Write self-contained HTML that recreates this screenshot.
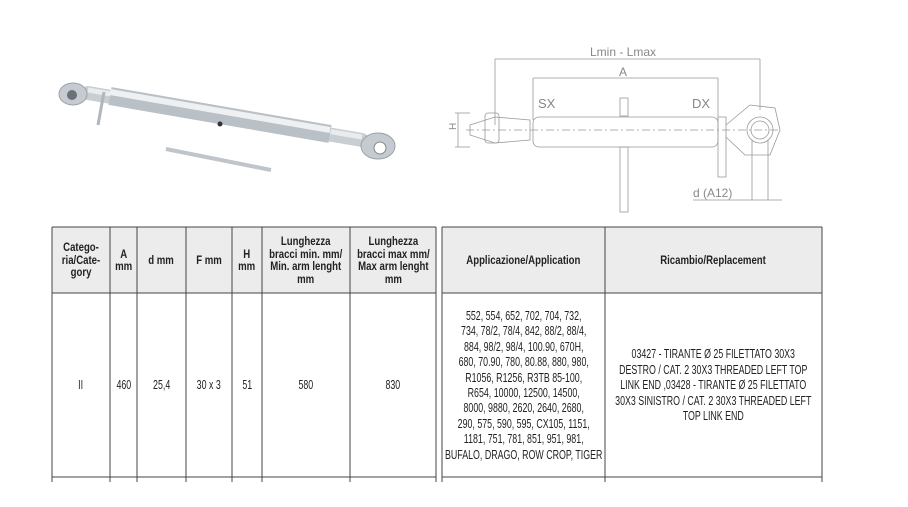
<!DOCTYPE html>
<html><head><meta charset="utf-8"><style>
body{margin:0;width:908px;height:507px;background:#fff;position:relative;overflow:hidden;font-family:"Liberation Sans",sans-serif;color:#222}
.c{position:absolute;display:flex;align-items:center;justify-content:center;text-align:center}
.c>span{display:block;white-space:nowrap;transform-origin:center}
.h{font-weight:bold;font-size:12px;line-height:12.5px}
.h>span{transform:scaleX(.8)}
.b{font-size:13px;line-height:15.4px}
.b>span{transform:scaleX(.68)}
</style></head><body>
<svg width="908" height="507" style="position:absolute;left:0;top:0">
<g>
<line x1="88" y1="93" x2="362" y2="140" stroke="#c9ced3" stroke-width="14" stroke-linecap="round"/>
<line x1="88" y1="90" x2="362" y2="137" stroke="#e9ecef" stroke-width="5"/>
<line x1="110" y1="96" x2="330" y2="134" stroke="#b9c0c6" stroke-width="18"/>
<line x1="110" y1="92" x2="330" y2="130" stroke="#eef0f2" stroke-width="6"/>
<ellipse cx="73" cy="94" rx="14" ry="11" fill="#c5cbd0" stroke="#9aa1a8"/>
<circle cx="72" cy="95" r="5" fill="#6a7078"/>
<ellipse cx="378" cy="146" rx="17" ry="13" fill="#c5cbd0" stroke="#9aa1a8"/>
<circle cx="380" cy="148" r="6" fill="#fff" stroke="#888"/>
<path d="M104 92 L98 125" stroke="#b0b6bc" stroke-width="3"/>
<circle cx="220" cy="124" r="2.5" fill="#333"/>
<line x1="166" y1="149" x2="271" y2="170" stroke="#bfc5ca" stroke-width="4"/>
</g>
<g stroke="#999" fill="none" stroke-width="0.8">
<line x1="495" y1="59" x2="760" y2="59"/>
<line x1="495" y1="59" x2="495" y2="125"/><line x1="760" y1="59" x2="760" y2="110"/>
<line x1="533" y1="78" x2="718" y2="78"/>
<line x1="533" y1="78" x2="533" y2="120"/><line x1="718" y1="78" x2="718" y2="120"/>
<rect x="533" y="117" width="185" height="30" rx="6"/>
<line x1="466" y1="130" x2="780" y2="130" stroke-dasharray="8,3,2,3"/>
<path d="M470 125 L495 117 L530 120 L530 140 L495 143 L470 135 Z"/>
<rect x="485" y="113" width="14" height="30" rx="3"/>
<rect x="620" y="98" width="8" height="18"/><rect x="620" y="147" width="8" height="65"/>
<rect x="718" y="117" width="8" height="60"/>
<path d="M726 125 L750 105 L775 108 L780 130 L770 155 L745 155 L726 137"/>
<circle cx="760" cy="130" r="13"/><circle cx="760" cy="130" r="9"/>
<line x1="455" y1="113" x2="470" y2="113"/><line x1="455" y1="147" x2="470" y2="147"/><line x1="458" y1="113" x2="458" y2="147"/>
<line x1="693" y1="200" x2="782" y2="200"/>
<line x1="752" y1="140" x2="752" y2="200"/><line x1="768" y1="140" x2="768" y2="200"/>
</g>
<g font-family="Liberation Sans,sans-serif" font-size="12" fill="#888">
<text x="590" y="56">Lmin - Lmax</text><text x="619" y="76">A</text>
<text x="538" y="108" font-size="13">SX</text><text x="692" y="108" font-size="13">DX</text>
<text x="693" y="197">d  (A12)</text>
<text x="452" y="134" transform="rotate(-90 452 130)" font-size="10">H</text>
</g>
<rect x="52" y="227" width="384" height="66" fill="#ececec"/>
<rect x="442" y="227" width="380" height="66" fill="#ececec"/>
<g stroke="#444" stroke-width="1">
<line x1="52" y1="227" x2="436" y2="227"/><line x1="442" y1="227" x2="822" y2="227"/>
<line x1="52" y1="293" x2="436" y2="293"/><line x1="442" y1="293" x2="822" y2="293"/>
<line x1="52" y1="477" x2="436" y2="477"/><line x1="442" y1="477" x2="822" y2="477"/>
<line x1="52" y1="227" x2="52" y2="482"/>
<line x1="110" y1="227" x2="110" y2="482"/><line x1="137" y1="227" x2="137" y2="482"/>
<line x1="186" y1="227" x2="186" y2="482"/><line x1="232" y1="227" x2="232" y2="482"/>
<line x1="262" y1="227" x2="262" y2="482"/><line x1="350" y1="227" x2="350" y2="482"/>
<line x1="436" y1="227" x2="436" y2="482"/><line x1="442" y1="227" x2="442" y2="482"/>
<line x1="605" y1="227" x2="605" y2="482"/><line x1="822" y1="227" x2="822" y2="482"/>
</g>
</svg>
<div class="c h" style="left:52px;top:227px;width:58px;height:66px"><span>Catego-<br>ria/Cate-<br>gory</span></div>
<div class="c h" style="left:110px;top:227px;width:27px;height:66px"><span>A<br>mm</span></div>
<div class="c h" style="left:137px;top:227px;width:49px;height:66px"><span>d mm</span></div>
<div class="c h" style="left:186px;top:227px;width:46px;height:66px"><span>F mm</span></div>
<div class="c h" style="left:232px;top:227px;width:30px;height:66px"><span>H<br>mm</span></div>
<div class="c h" style="left:262px;top:227px;width:88px;height:66px"><span>Lunghezza<br>bracci min. mm/<br>Min. arm lenght<br>mm</span></div>
<div class="c h" style="left:350px;top:227px;width:86px;height:66px"><span>Lunghezza<br>bracci max mm/<br>Max arm lenght<br>mm</span></div>
<div class="c h" style="left:442px;top:227px;width:163px;height:66px"><span>Applicazione/Application</span></div>
<div class="c h" style="left:605px;top:227px;width:217px;height:66px"><span>Ricambio/Replacement</span></div>
<div class="c b" style="left:52px;top:293px;width:58px;height:184px"><span>II</span></div>
<div class="c b" style="left:110px;top:293px;width:27px;height:184px"><span>460</span></div>
<div class="c b" style="left:137px;top:293px;width:49px;height:184px"><span>25,4</span></div>
<div class="c b" style="left:186px;top:293px;width:46px;height:184px"><span>30 x 3</span></div>
<div class="c b" style="left:232px;top:293px;width:30px;height:184px"><span>51</span></div>
<div class="c b" style="left:262px;top:293px;width:88px;height:184px"><span>580</span></div>
<div class="c b" style="left:350px;top:293px;width:86px;height:184px"><span>830</span></div>
<div class="c b" style="left:442px;top:293px;width:163px;height:184px"><span>552, 554, 652, 702, 704, 732,<br>734, 78/2, 78/4, 842, 88/2, 88/4,<br>884, 98/2, 98/4, 100.90, 670H,<br>680, 70.90, 780, 80.88, 880, 980,<br>R1056, R1256, R3TB 85-100,<br>R654, 10000, 12500, 14500,<br>8000, 9880, 2620, 2640, 2680,<br>290, 575, 590, 595, CX105, 1151,<br>1181, 751, 781, 851, 951, 981,<br>BUFALO, DRAGO, ROW CROP, TIGER</span></div>
<div class="c b" style="left:605px;top:293px;width:217px;height:184px"><span>03427 - TIRANTE Ø 25 FILETTATO 30X3<br>DESTRO / CAT. 2 30X3 THREADED LEFT TOP<br>LINK END ,03428 - TIRANTE Ø 25 FILETTATO<br>30X3 SINISTRO / CAT. 2 30X3 THREADED LEFT<br>TOP LINK END</span></div>
</body></html>
